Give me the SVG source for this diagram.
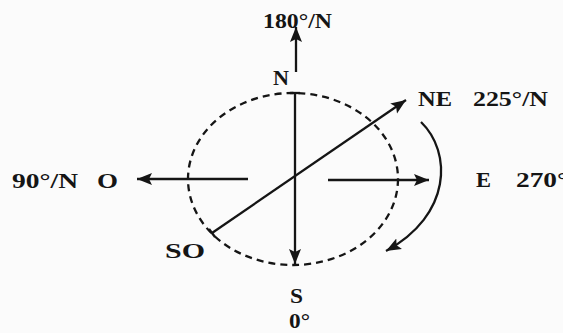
<svg xmlns="http://www.w3.org/2000/svg" width="563" height="333" viewBox="0 0 563 333">
<defs>
<style>
.t{font-family:"Liberation Serif","Times New Roman",serif;font-weight:bold;font-size:22px;fill:#151515}
.l{stroke:#151515;stroke-width:2.3;fill:none}
</style>
<marker id="ah" markerUnits="userSpaceOnUse" markerWidth="18" markerHeight="14" refX="15" refY="7" orient="auto">
<path d="M0,1 L15,7 L0,13 L3,7 Z" fill="#151515"/>
</marker>
</defs>
<rect width="563" height="333" fill="#fbfbfb"/>
<g id="circle">
<ellipse cx="293" cy="179" rx="105" ry="86" class="l" stroke-dasharray="7 5"/>
</g>
<g id="connectors">
<line x1="296" y1="72" x2="296" y2="27" class="l" marker-end="url(#ah)"/>
<line x1="295" y1="93" x2="295" y2="264" class="l" marker-end="url(#ah)"/>
<line x1="290" y1="93" x2="300" y2="93" class="l"/>
<line x1="212" y1="233" x2="406" y2="100" class="l" marker-end="url(#ah)"/>
<line x1="209" y1="229" x2="215" y2="237" class="l"/>
<line x1="248" y1="179" x2="137" y2="179" class="l" marker-end="url(#ah)"/>
<line x1="328" y1="180" x2="429" y2="180" class="l" marker-end="url(#ah)"/>
<path d="M421,122 C452,152 452,215 386,251" class="l" marker-end="url(#ah)"/>
</g>
<g id="labels">
<text class="t" x="263" y="28" textLength="69" lengthAdjust="spacingAndGlyphs">180°/N</text>
<text class="t" x="273" y="85" textLength="16" lengthAdjust="spacingAndGlyphs">N</text>
<text class="t" x="418" y="106" textLength="34" lengthAdjust="spacingAndGlyphs">NE</text>
<text class="t" x="473" y="106" textLength="75" lengthAdjust="spacingAndGlyphs">225°/N</text>
<text class="t" x="12" y="188" textLength="66" lengthAdjust="spacingAndGlyphs">90°/N</text>
<text class="t" x="97" y="188" textLength="21" lengthAdjust="spacingAndGlyphs">O</text>
<text class="t" x="476" y="187" textLength="15" lengthAdjust="spacingAndGlyphs">E</text>
<text class="t" x="516" y="187" textLength="52" lengthAdjust="spacingAndGlyphs">270°</text>
<text class="t" x="165" y="258" textLength="40" lengthAdjust="spacingAndGlyphs">SO</text>
<text class="t" x="290" y="303" textLength="13" lengthAdjust="spacingAndGlyphs">S</text>
<text class="t" x="289" y="328" textLength="21" lengthAdjust="spacingAndGlyphs">0°</text>
</g>
</svg>
